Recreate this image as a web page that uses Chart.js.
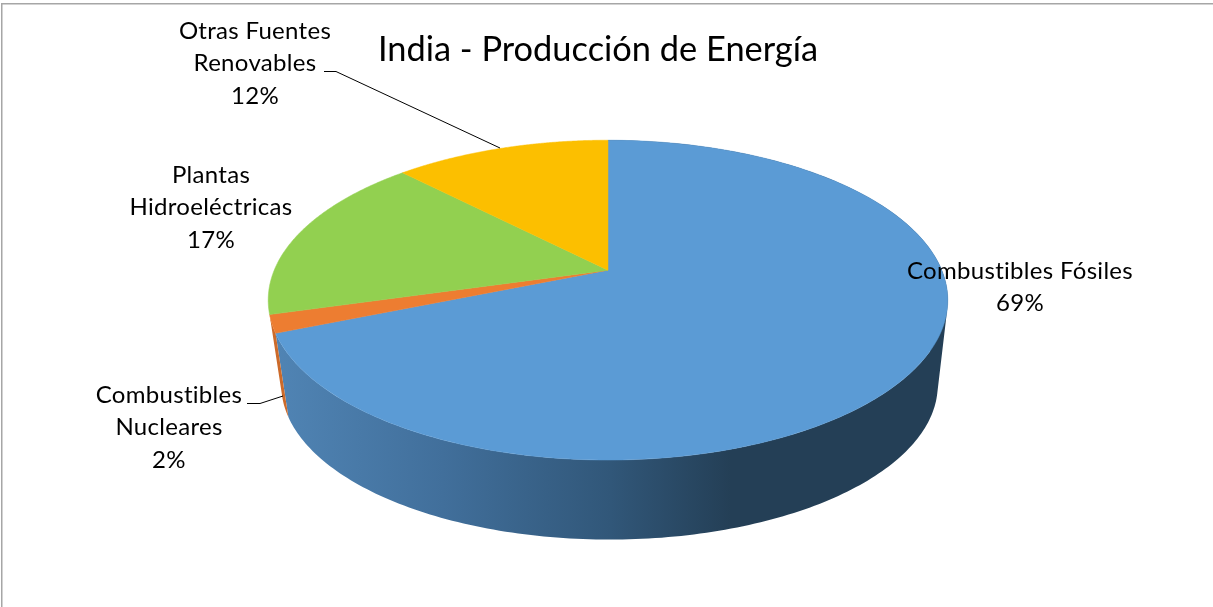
<!DOCTYPE html>
<html>
<head>
<meta charset="utf-8">
<title>India - Producción de Energía</title>
<script src="https://cdn.jsdelivr.net/npm/chart.js@4/dist/chart.umd.min.js"></script>
<style>
  html, body { margin: 0; padding: 0; background: #fff; overflow: hidden; }
  canvas { display: block; }
</style>
</head>
<body>
<canvas id="pieChart" width="1213" height="607"></canvas>
<script>
const titleText = 'India - Producción de Energía';
const categories = ['Combustibles Fósiles', 'Combustibles Nucleares', 'Plantas Hidroeléctricas', 'Otras Fuentes Renovables'];
const shares = [68.8, 1.8, 17.1, 12.3];
const sliceColors = ['#5B9BD5', '#ED7D31', '#92D050', '#FCBF00'];

const FONT = 'Lato, "Open Sans", sans-serif';

// the pie is a flat circle seen from above, this squashes it with some perspective
const TILT = { sx: 334 / 200, sy: 154.4 / 200, k: 0.1875 };
// lower rim of the side wall, relative to the ellipse of the top face
const WALL = { scale: 0.966, rimCenterY: 300, lowCenterY: 385, shiftX: 1.5 };

function topPoint(el, angle) {
    const ux = Math.cos(angle), uy = Math.sin(angle);
    const d = 1 - TILT.k * uy;
    return {
        x: el.x + el.outerRadius * TILT.sx * ux / d,
        y: el.y + el.outerRadius * TILT.sy * uy / d
    };
}

function lowPoint(el, angle) {
    const p = topPoint(el, angle);
    return {
        x: el.x + WALL.shiftX + (p.x - el.x) * WALL.scale,
        y: WALL.lowCenterY + (p.y - WALL.rimCenterY) * WALL.scale
    };
}

// slices are still ArcElements with the angles from the controller, only the path changes
Chart.ArcElement.prototype.draw = function (ctx) {
    const steps = 160;
    ctx.save();
    ctx.beginPath();
    ctx.moveTo(this.x, this.y);
    for (let i = 0; i <= steps; i++) {
        const p = topPoint(this, this.startAngle + (this.endAngle - this.startAngle) * i / steps);
        ctx.lineTo(p.x, p.y);
    }
    ctx.closePath();
    ctx.fillStyle = this.options.backgroundColor;
    ctx.strokeStyle = this.options.backgroundColor;
    ctx.lineWidth = 0.5;
    ctx.fill();
    ctx.stroke();
    ctx.restore();
};

function blueWall(ctx) {
    const g = ctx.createLinearGradient(276, 0, 945, 0);
    g.addColorStop(0, '#5084B4');
    g.addColorStop(0.25, '#416F9B');
    g.addColorStop(0.5, '#315779');
    g.addColorStop(0.68, '#243F56');
    g.addColorStop(1, '#243F56');
    return g;
}

// adds a quad to the current path, always wound the same way so the union has no seams
function addQuad(ctx, pts) {
    let area = 0;
    pts.forEach((p, i) => {
        const q = pts[(i + 1) % pts.length];
        area += p.x * q.y - q.x * p.y;
    });
    const list = area < 0 ? pts.slice().reverse() : pts;
    list.forEach((p, i) => i ? ctx.lineTo(p.x, p.y) : ctx.moveTo(p.x, p.y));
    ctx.closePath();
}

const wallPlugin = {
    id: 'wall',
    beforeDatasetsDraw(chart) {
        const ctx = chart.ctx;
        const arcs = chart.getDatasetMeta(0).data;
        // only the first two slices face the viewer
        const fills = [blueWall(ctx), '#CC6A2A'];
        ctx.save();
        fills.forEach((fill, n) => {
            const el = arcs[n];
            const steps = Math.max(2, Math.ceil((el.endAngle - el.startAngle) * 60));
            ctx.beginPath();
            for (let i = 0; i < steps; i++) {
                const a0 = el.startAngle + (el.endAngle - el.startAngle) * i / steps;
                const a1 = el.startAngle + (el.endAngle - el.startAngle) * (i + 1) / steps;
                addQuad(ctx, [topPoint(el, a0), topPoint(el, a1), lowPoint(el, a1), lowPoint(el, a0)]);
            }
            ctx.fillStyle = fill;
            ctx.fill();
        });
        ctx.restore();
    }
};

// where each label sits, and the leader line if it has one
const labelSpots = [
    { x: 1020, y: 271, wrap: false },
    { x: 169, y: 395, wrap: true, leader: [[247, 403.5], [260, 403.5], [283, 396]] },
    { x: 211, y: 175, wrap: true },
    { x: 255, y: 31, wrap: true, leader: [[324, 71.5], [336, 71.5], [500, 148]] }
];

const labelPlugin = {
    id: 'sliceLabels',
    afterDatasetsDraw(chart) {
        const ctx = chart.ctx;
        ctx.save();
        ctx.font = '24px ' + FONT;
        ctx.letterSpacing = '0.3px';
        ctx.fillStyle = '#000';
        ctx.textAlign = 'center';
        ctx.textBaseline = 'middle';
        categories.forEach((name, i) => {
            const spot = labelSpots[i];
            let lines = [name];
            if (spot.wrap) {
                const cut = name.lastIndexOf(' ');
                lines = [name.slice(0, cut), name.slice(cut + 1)];
            }
            lines.push(Math.round(shares[i]) + '%');
            lines.forEach((line, j) => ctx.fillText(line, spot.x, spot.y + j * 32.5));
            if (spot.leader) {
                ctx.strokeStyle = '#000';
                ctx.lineWidth = 1;
                ctx.beginPath();
                spot.leader.forEach((p, j) => j ? ctx.lineTo(p[0], p[1]) : ctx.moveTo(p[0], p[1]));
                ctx.stroke();
            }
        });
        ctx.restore();
    }
};

const framePlugin = {
    id: 'frame',
    beforeDraw(chart) {
        const ctx = chart.ctx;
        ctx.save();
        ctx.fillStyle = '#fff';
        ctx.fillRect(0, 0, chart.width, chart.height);
        ctx.strokeStyle = '#A6A6A6';
        ctx.lineWidth = 1.5;
        ctx.beginPath();
        ctx.moveTo(1.75, chart.height);
        ctx.lineTo(1.75, 3.75);
        ctx.lineTo(chart.width, 3.75);
        ctx.stroke();
        ctx.restore();
    },
    afterLayout(chart) {
        // title sits a little left of the canvas centre
        chart.titleBlock.left = -8.5;
        chart.titleBlock.right = chart.width - 8.5;
    }
};

const ctx = document.getElementById('pieChart').getContext('2d');
const chart = new Chart(ctx, {
    type: 'pie',
    data: {
        labels: categories,
        datasets: [{
            data: shares,
            backgroundColor: sliceColors,
            borderWidth: 0
        }]
    },
    options: {
        responsive: false,
        animation: false,
        layout: { padding: { left: 3, bottom: 137 } },
        plugins: {
            legend: { display: false },
            tooltip: { enabled: false },
            title: {
                display: true,
                text: titleText,
                color: '#000',
                font: { family: FONT, size: 34.4, weight: 'normal', lineHeight: 1.2 },
                padding: { top: 29, bottom: 0 }
            }
        }
    },
    plugins: [framePlugin, wallPlugin, labelPlugin]
});
</script>
</body>
</html>
